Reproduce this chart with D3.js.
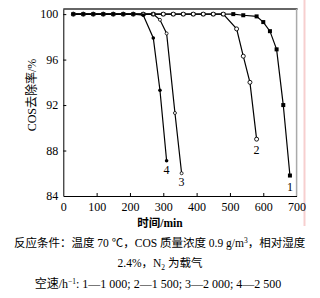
<!DOCTYPE html>
<html><head><meta charset="utf-8">
<script src="https://cdn.jsdelivr.net/npm/d3@7/dist/d3.min.js"></script>
<style>
html,body{margin:0;padding:0;background:#fff;}
svg{display:block;}
text{font-family:"Liberation Serif","Noto Sans CJK SC",serif;}
</style></head><body>
<script>
// ---- data ----
const xTicks = [0,100,200,300,400,500,600,700];
const yTicks = [84,88,92,96,100];
const s1t = [30,60,90,120,150,180,210,240,270,300,330,360,390,420,450,480,510,540,580,600,620,640,660,680];
const s1v = [100,100,100,100,100,100,100,100,100,100,100,100,100,100,100,100,100,99.9,99.8,99.3,98.5,96.9,92.0,85.8];
const s2t = [30,60,90,120,150,180,210,240,270,300,330,360,390,420,450,480,520,540,560,580];
const s2v = [100,100,100,100,100,100,100,100,100,100,100,100,100,100,100,100,98.7,96.3,94.0,89.0];
const s3t = [30,60,90,120,150,180,210,240,270,290,310,335,355];
const s3v = [100,100,100,100,100,100,100,100,100,99.5,98.3,91.3,86.0];
const s4t = [30,60,90,120,150,180,210,240,270,290,310];
const s4v = [100,100,100,100,100,100,100,99.9,97.9,93.3,87.1];
const seriesNames = ["1","2","3","4"];
const caption1 = "反应条件：温度 70 ℃，COS 质量浓度 0.9 g/m";
const caption1b = "，相对湿度";
const caption2a = "2.4%，N";
const caption2b = " 为载气";
const caption3 = ["空速/h", ": 1—1 000; 2—1 500; 3—2 000; 4—2 500"];
const yTitle = "COS去除率/%";
const xTitle = "时间/min";

const W=320,H=298;
const svg=d3.select("body").append("svg").attr("width",W).attr("height",H);
const x=d3.scaleLinear().domain([0,700]).range([63.3,296.6]);
const y=d3.scaleLinear().domain([84,100.45]).range([196,9]);

// pink artifact line
svg.append("line").attr("x1",304.5).attr("x2",304.5).attr("y1",0).attr("y2",226)
  .attr("stroke","#f7cfcf").attr("stroke-width",2);

// frame
svg.append("line").attr("x1",x(0)).attr("x2",x(700)+1).attr("y1",9).attr("y2",9).attr("stroke","#666").attr("stroke-width",2);
svg.append("line").attr("x1",x(700)).attr("x2",x(700)).attr("y1",9).attr("y2",196).attr("stroke","#aaa").attr("stroke-width",1.5);

const gx=svg.append("g").attr("transform","translate(0,196)")
  .call(d3.axisBottom(x).tickValues(xTicks).tickSizeInner(-3).tickSizeOuter(0).tickPadding(6));
const gy=svg.append("g").attr("transform","translate(63.3,0)")
  .call(d3.axisLeft(y).tickValues(yTicks).tickSizeInner(-3).tickSizeOuter(0).tickPadding(5));
[gx,gy].forEach(g=>{
  g.selectAll("text").attr("font-family","Liberation Serif").attr("font-size",12).attr("fill","#000");
  g.selectAll("line").attr("stroke","#000");
  g.select(".domain").attr("stroke","#000");
});
gx.selectAll(".tick").filter(d=>d===0||d===700).select("line").remove();
gy.selectAll(".tick").filter(d=>d===84).select("line").remove();

const line=d3.line().x(d=>x(d[0])).y(d=>y(d[1]));
const series=[
 {t:s1t,v:s1v,m:"sq"},
 {t:s2t,v:s2v,m:"oc"},
 {t:s3t,v:s3v,m:"sc"},
 {t:s4t,v:s4v,m:"fc"}
];
series.forEach((s,i)=>{
  const pts=s.t.map((t,j)=>[t,s.v[j]]);
  svg.append("path").attr("d",line(pts)).attr("fill","none").attr("stroke","#000").attr("stroke-width",1.2);
});
series.forEach((s,i)=>{
  const pts=s.t.map((t,j)=>[t,s.v[j]]);
  const g=svg.append("g");
  pts.forEach(p=>{
    if(s.m==="sq") g.append("rect").attr("x",x(p[0])-2).attr("y",y(p[1])-2).attr("width",4).attr("height",4).attr("fill","#000");
    else if(s.m==="oc") g.append("circle").attr("cx",x(p[0])).attr("cy",y(p[1])).attr("r",2).attr("fill","#fff").attr("stroke","#000").attr("stroke-width",0.9);
    else if(s.m==="sc") g.append("circle").attr("cx",x(p[0])).attr("cy",y(p[1])).attr("r",1.5).attr("fill","#fff").attr("stroke","#000").attr("stroke-width",0.8);
    else g.append("circle").attr("cx",x(p[0])).attr("cy",y(p[1])).attr("r",1.8).attr("fill","#000");
  });
  const last=pts[pts.length-1];
  const off=[15,15,13,13][i];
  svg.append("text").attr("x",x(last[0])).attr("y",y(last[1])+off).attr("text-anchor","middle")
    .attr("font-size",12).attr("font-family","Liberation Serif").text(seriesNames[i]);
});

// axis titles
svg.append("text").attr("transform","translate(36,95) rotate(-90)").attr("text-anchor","middle")
  .attr("font-size",12).attr("font-family","Liberation Serif, Noto Sans CJK SC").text(yTitle);
svg.append("text").attr("x",160).attr("y",227).attr("text-anchor","middle").attr("font-weight","bold")
  .attr("font-size",11.5).attr("font-family","Liberation Serif, Noto Sans CJK SC").text(xTitle);

// captions
const c1=svg.append("text").attr("x",14).attr("y",247).attr("font-size",11.5).attr("font-family","Liberation Serif, Noto Sans CJK SC");
c1.append("tspan").text(caption1);
c1.append("tspan").attr("dy",-4).attr("font-size",7.5).text("3");
c1.append("tspan").attr("dy",4).text(caption1b);
const c2=svg.append("text").attr("x",160).attr("y",267).attr("text-anchor","middle").attr("font-size",11.5).attr("font-family","Liberation Serif, Noto Sans CJK SC");
c2.append("tspan").text(caption2a);
c2.append("tspan").attr("dy",3).attr("font-size",7.5).text("2");
c2.append("tspan").attr("dy",-3).text(caption2b);
const c3=svg.append("text").attr("x",158).attr("y",288).attr("text-anchor","middle").attr("font-size",12).attr("font-family","Liberation Serif, Noto Sans CJK SC");
c3.append("tspan").text(caption3[0]);
c3.append("tspan").attr("dy",-4).attr("font-size",7.5).text("−1");
c3.append("tspan").attr("dy",4).text(caption3[1]);
</script>
</body></html>
